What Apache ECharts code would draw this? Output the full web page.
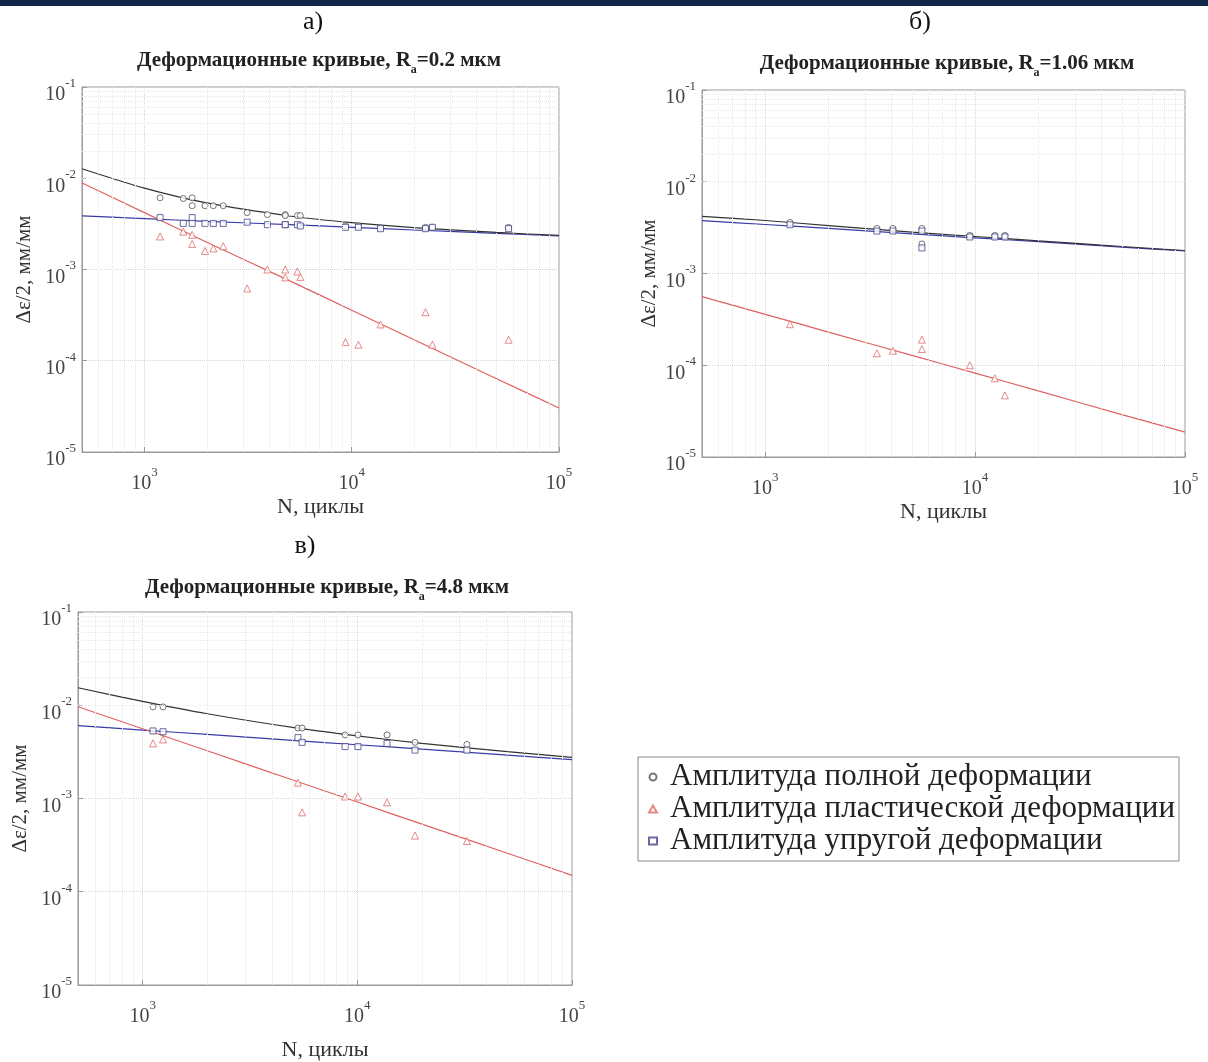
<!DOCTYPE html>
<html><head><meta charset="utf-8">
<script src="https://cdn.jsdelivr.net/npm/echarts@6/dist/echarts.min.js"></script>
<style>html,body{margin:0;padding:0;background:#fff}#c{width:1208px;height:1062px}</style>
</head><body><div id="c"></div>
<script>
// ---------- data ----------
const seriesNames = ['Амплитуда полной деформации', 'Амплитуда пластической деформации', 'Амплитуда упругой деформации'];
const panelLabels = ['а)', 'б)', 'в)'];
const panelRa = ['0.2', '1.06', '4.8'];

// panel а (Ra = 0.2)
const aN       = [1190, 1540, 1700, 1700, 1960, 2150, 2400, 3130, 3920, 4780, 4780, 5470, 5650, 9330, 10770, 13770, 22700, 24500, 57100];
const aTotal   = [0.0061, 0.0060, 0.0061, 0.0050, 0.0050, 0.0050, 0.0050, 0.0042, 0.0040, 0.0040, 0.0039, 0.0039, 0.0039, 0.0030, 0.0030, 0.0029, 0.0029, 0.0029, 0.0029];
const aElastic = [0.0037, 0.0032, 0.0037, 0.0032, 0.0032, 0.0032, 0.0032, 0.0033, 0.0031, 0.0031, 0.0031, 0.0031, 0.0030, 0.0029, 0.0029, 0.0028, 0.0028, 0.0029, 0.0028];
const aPlastic = [0.0023, 0.0026, 0.0024, 0.0019, 0.0016, 0.0017, 0.0018, 0.00062, 0.0010, 0.0010, 0.00082, 0.00095, 0.00083, 0.00016, 0.00015, 0.00025, 0.00034, 0.00015, 0.00017];

// panel б (Ra = 1.06)
const bN       = [1313, 3405, 4060, 5580, 5580, 9440, 12420, 13870];
const bTotal   = [0.0036, 0.0031, 0.0031, 0.0031, 0.0021, 0.0026, 0.0026, 0.0026];
const bElastic = [0.0034, 0.0029, 0.0029, 0.0029, 0.0019, 0.0025, 0.0025, 0.0025];
const bPlastic = [0.00028, 0.000135, 0.000144, 0.00019, 0.00015, 0.00010, 0.000072, 0.000047];

// panel в (Ra = 4.8)
const cN       = [1118, 1245, 5290, 5530, 8770, 10070, 13750, 18570, 32400];
const cTotal   = [0.0096, 0.0096, 0.0057, 0.0057, 0.0048, 0.0048, 0.0048, 0.0040, 0.0038];
const cElastic = [0.0053, 0.0052, 0.0045, 0.0040, 0.0036, 0.0036, 0.0039, 0.0033, 0.0033];
const cPlastic = [0.0039, 0.0043, 0.00148, 0.00071, 0.00105, 0.00105, 0.00091, 0.00040, 0.00035];

// fitted curves
const fitN = [500, 1000, 2000, 5000, 10000, 20000, 50000, 100000];
const aFitTotal   = [0.0127, 0.0078, 0.00536, 0.00386, 0.00326, 0.00288, 0.00255, 0.00236];
const aFitElastic = [0.00386, 0.00361, 0.00337, 0.00310, 0.00290, 0.00271, 0.00249, 0.00233];
const aFitPlastic = [0.00887, 0.00420, 0.00199, 0.000755, 0.000358, 0.000170, 0.0000636, 0.0000303];
const bFitTotal   = [0.0042, 0.00378, 0.00333, 0.00283, 0.00253, 0.00227, 0.00197, 0.00178];
const bFitElastic = [0.00377, 0.00342, 0.00310, 0.00270, 0.00245, 0.00222, 0.00194, 0.00176];
const bFitPlastic = [0.00056, 0.000359, 0.000230, 0.000128, 0.000082, 0.0000526, 0.000029, 0.0000187];
const cFitTotal   = [0.0154, 0.0110, 0.0081, 0.00578, 0.00469, 0.00391, 0.00318, 0.00276];
const cFitElastic = [0.00604, 0.00542, 0.00486, 0.00420, 0.00377, 0.00338, 0.00292, 0.00261];
const cFitPlastic = [0.00964, 0.00560, 0.00325, 0.00158, 0.000916, 0.000531, 0.000259, 0.000150];

// minor grid values
const xMinor = [600,700,800,900,2000,3000,4000,5000,6000,7000,8000,9000,20000,30000,40000,50000,60000,70000,80000,90000];
const yMinor = [];
[1e-5,1e-4,1e-3,1e-2].forEach(d => { for (let k = 2; k <= 9; k++) yMinor.push(+(d * k).toPrecision(3)); });

// ---------- build ----------
const pairs = (xs, ys) => xs.map((x, i) => [x, ys[i]]);
const panels = [
  {N: aN, t: aTotal, e: aElastic, p: aPlastic, ft: aFitTotal, fe: aFitElastic, fp: aFitPlastic},
  {N: bN, t: bTotal, e: bElastic, p: bPlastic, ft: bFitTotal, fe: bFitElastic, fp: bFitPlastic},
  {N: cN, t: cTotal, e: cElastic, p: cPlastic, ft: cFitTotal, fe: cFitElastic, fp: cFitPlastic}
];
const gridsPos = [
  {left: 82, top: 87, width: 477, height: 365},
  {left: 702, top: 90, width: 483, height: 367},
  {left: 78, top: 612, width: 494, height: 374}
];
const serif = 'Liberation Serif, DejaVu Serif, serif';
const isPow = v => Math.abs(Math.log10(v) - Math.round(Math.log10(v))) < 1e-6;
const powLabel = v => isPow(v) ? '{b|10}{s|' + Math.round(Math.log10(v)) + '}' : '';
const labelRich = {
  b: {fontFamily: serif, fontSize: 20, lineHeight: 28, color: '#444', verticalAlign: 'bottom'},
  s: {fontFamily: serif, fontSize: 13, lineHeight: 14, color: '#444', verticalAlign: 'top'}
};

const grid = [], xAxis = [], yAxis = [], series = [], title = [];
const xNameGap = [44, 44, 54];
const yNameGap = [47, 42, 47];
panels.forEach((P, i) => {
  grid.push(Object.assign({show: true, borderColor: '#999', borderWidth: 1, backgroundColor: '#fff'}, gridsPos[i]));
  xAxis.push({
    gridIndex: i, type: 'log', logBase: 10, min: 500, max: 100000,
    name: 'N, циклы', nameLocation: 'middle', nameGap: xNameGap[i],
    nameTextStyle: {fontFamily: serif, fontSize: 22, color: '#333'},
    axisLine: {show: true, lineStyle: {color: '#999'}},
    axisTick: {show: true, inside: true, length: 5, lineStyle: {color: '#999'}},
    axisLabel: {formatter: powLabel, rich: labelRich, margin: 14, color: '#444'},
    splitLine: {show: true, lineStyle: {color: '#d6d6d6', type: 'dotted'}}
  });
  yAxis.push({
    gridIndex: i, type: 'log', logBase: 10, min: 1e-5, max: 0.1,
    name: 'Δε/2, мм/мм', nameLocation: 'middle', nameGap: yNameGap[i], nameRotate: 90,
    nameTextStyle: {fontFamily: serif, fontSize: 21, color: '#333'},
    axisLine: {show: true, lineStyle: {color: '#999'}},
    axisTick: {show: true, inside: true, length: 5, lineStyle: {color: '#999'}},
    axisLabel: {formatter: powLabel, rich: labelRich, margin: 6, color: '#444', padding: [8, 0, 0, 0]},
    splitLine: {show: true, lineStyle: {color: '#d6d6d6', type: 'dotted'}}
  });
  // minor grid
  series.push({
    type: 'line', xAxisIndex: i, yAxisIndex: i, data: [[500, 1e-5]], symbol: 'none', silent: true,
    lineStyle: {opacity: 0}, z: 1,
    markLine: {
      silent: true, symbol: ['none', 'none'], label: {show: false}, animation: false,
      lineStyle: {color: '#e8e8e8', type: 'dotted', width: 1},
      data: xMinor.map(v => ({xAxis: v})).concat(yMinor.map(v => ({yAxis: v})))
    }
  });
  // fit lines
  series.push({type: 'line', xAxisIndex: i, yAxisIndex: i, data: pairs(fitN, P.fe), symbol: 'none', smooth: 0.3,
    lineStyle: {color: '#3a3aa8', width: 1.2}, z: 3, silent: true});
  series.push({type: 'line', xAxisIndex: i, yAxisIndex: i, data: pairs(fitN, P.ft), symbol: 'none', smooth: 0.3,
    lineStyle: {color: '#333', width: 1.2}, z: 3, silent: true});
  series.push({type: 'line', xAxisIndex: i, yAxisIndex: i, data: pairs(fitN, P.fp), symbol: 'none', smooth: 0.3,
    lineStyle: {color: '#e06060', width: 1.2}, z: 3, silent: true});
  // scatter points
  series.push({name: seriesNames[0], type: 'scatter', xAxisIndex: i, yAxisIndex: i, data: pairs(P.N, P.t),
    symbol: 'circle', symbolSize: 6, itemStyle: {color: '#fff', borderColor: '#555', borderWidth: 1}, z: 4});
  series.push({name: seriesNames[1], type: 'scatter', xAxisIndex: i, yAxisIndex: i, data: pairs(P.N, P.p),
    symbol: 'triangle', symbolSize: 7, itemStyle: {color: '#fff', borderColor: '#e06b6b', borderWidth: 1}, z: 4});
  series.push({name: seriesNames[2], type: 'scatter', xAxisIndex: i, yAxisIndex: i, data: pairs(P.N, P.e),
    symbol: 'rect', symbolSize: 6, itemStyle: {color: '#fff', borderColor: '#45458a', borderWidth: 1}, z: 4});
});

const titleCenters = [[314, 45], [942, 48], [322, 572]];
const labelCenters = [[308, 4], [915, 4], [300, 528]];
panels.forEach((P, i) => {
  title.push({
    text: '{t|Деформационные кривые, R}{s|a}{t|=' + panelRa[i] + ' мкм}',
    left: titleCenters[i][0], top: titleCenters[i][1], textAlign: 'center',
    textStyle: {rich: {
      t: {fontFamily: serif, fontWeight: 'bold', fontSize: 21, color: '#222', verticalAlign: 'top'},
      s: {fontFamily: serif, fontWeight: 'bold', fontSize: 12, color: '#222', verticalAlign: 'bottom', padding: [14, 0, 0, 0]}
    }}
  });
  title.push({
    text: panelLabels[i], left: labelCenters[i][0], top: labelCenters[i][1], textAlign: 'center',
    textStyle: {fontFamily: serif, fontWeight: 'normal', fontSize: 26, color: '#111'}
  });
});

const chart = echarts.init(document.getElementById('c'), null, {renderer: 'canvas'});
chart.setOption({
  animation: false,
  backgroundColor: '#fff',
  graphic: [{type: 'rect', left: 0, top: 0, shape: {width: 1208, height: 6}, style: {fill: '#12264a'}, silent: true}],
  title: title,
  legend: {
    data: seriesNames, orient: 'vertical', left: 638, top: 757,
    borderColor: '#888', borderWidth: 1, padding: [4, 4, 4, 10], itemGap: 0,
    itemWidth: 8, itemHeight: 7,
    textStyle: {fontFamily: serif, fontSize: 31, lineHeight: 32, color: '#222', padding: [0, 0, 0, 8]},
    selectedMode: false
  },
  grid: grid, xAxis: xAxis, yAxis: yAxis, series: series
});
</script></body></html>
